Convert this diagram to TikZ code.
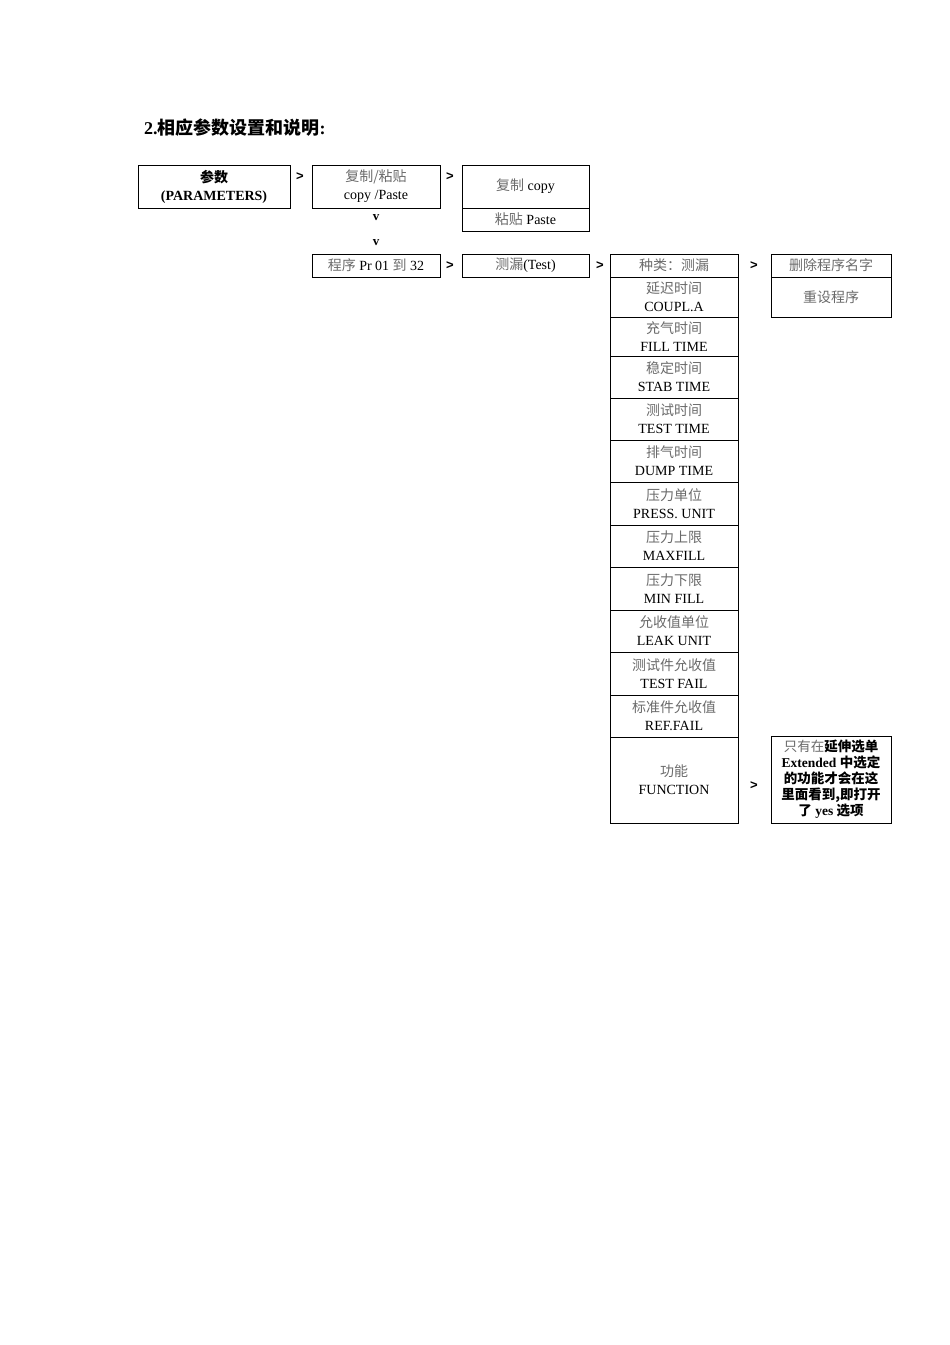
\documentclass[tikz,border=0pt]{standalone}
\usepackage{fontspec}
\setmainfont{Liberation Serif}
\newfontfamily\cjk{Noto Sans CJK SC}
\newfontfamily\arial{Liberation Sans}
\definecolor{cn}{HTML}{6A6A6A}
\newcommand{\zh}[1]{{\cjk\color{cn}#1}}
\newcommand{\zb}[1]{{\cjk\bfseries #1}}
\tikzset{
  box/.style={draw, line width=1pt, inner sep=0pt, align=center, font=\fontsize{14}{18}\selectfont},
  sym/.style={inner sep=0pt, font=\fontsize{13}{16}\selectfont\arial\bfseries},
  symv/.style={inner sep=0pt, font=\fontsize{13}{16}\selectfont\bfseries},
}
\begin{document}
\begin{tikzpicture}[x=1pt,y=-1pt]
\useasboundingbox (0,0) rectangle (950,1345);
\node[anchor=west, inner sep=0pt, font=\fontsize{18}{20}\selectfont\bfseries] (title) at (144,128) {2.\zb{相应参数设置和说明}:};

\node[box, minimum width=152pt, minimum height=43pt] (par) at (214,186.5) {\zb{参数}\\\bfseries (PARAMETERS)};
\node[sym] (g1) at (300,177) {>};
\node[box, minimum width=128pt, minimum height=43pt] (cp) at (376,186.5) {\zh{复制/粘贴}\\copy /Paste};
\node[sym] (g2) at (450,177) {>};
\node[box, minimum width=127pt, minimum height=43pt] (cy) at (525.5,186.5) {\zh{复制} copy};
\node[box, minimum width=127pt, minimum height=23pt] (pa) at (525.5,219.5) {\zh{粘贴} Paste};
\node[symv] (v1) at (376,218) {v};
\node[symv] (v2) at (376,243) {v};

\node[box, minimum width=128pt, minimum height=23pt] (pr) at (376,265.5) {\zh{程序} Pr 01 \zh{到} 32};
\node[sym] (g3) at (450,266) {>};
\node[box, minimum width=127pt, minimum height=23pt] (ts) at (525.5,265.5) {\zh{测漏}(Test)};
\node[sym] (g4) at (600,266) {>};

\node[box, minimum width=128pt, minimum height=23pt] (r1) at (674,265.5) {\zh{种类：测漏}};
\node[box, minimum width=128pt, minimum height=40pt] (r2) at (674,297) {\zh{延迟时间}\\COUPL.A};
\node[box, minimum width=128pt, minimum height=39pt] (r3) at (674,336.5) {\zh{充气时间}\\FILL TIME};
\node[box, minimum width=128pt, minimum height=42pt] (r4) at (674,377) {\zh{稳定时间}\\STAB TIME};
\node[box, minimum width=128pt, minimum height=42pt] (r5) at (674,419) {\zh{测试时间}\\TEST TIME};
\node[box, minimum width=128pt, minimum height=42pt] (r6) at (674,461) {\zh{排气时间}\\DUMP TIME};
\node[box, minimum width=128pt, minimum height=43pt] (r7) at (674,503.5) {\zh{压力单位}\\PRESS. UNIT};
\node[box, minimum width=128pt, minimum height=42pt] (r8) at (674,546) {\zh{压力上限}\\MAXFILL};
\node[box, minimum width=128pt, minimum height=43pt] (r9) at (674,588.5) {\zh{压力下限}\\MIN FILL};
\node[box, minimum width=128pt, minimum height=42pt] (r10) at (674,631) {\zh{允收值单位}\\LEAK UNIT};
\node[box, minimum width=128pt, minimum height=43pt] (r11) at (674,673.5) {\zh{测试件允收值}\\TEST FAIL};
\node[box, minimum width=128pt, minimum height=42pt] (r12) at (674,716) {\zh{标准件允收值}\\REF.FAIL};
\node[box, minimum width=128pt, minimum height=86pt] (r13) at (674,780) {\zh{功能}\\FUNCTION};

\node[sym] (g5) at (754,266) {>};
\node[box, minimum width=120pt, minimum height=23pt] (del) at (831,265.5) {\zh{删除程序名字}};
\node[box, minimum width=120pt, minimum height=40pt] (rst) at (831,297) {\zh{重设程序}};

\node[sym] (g6) at (754,786) {>};
\node[box, minimum width=120pt, minimum height=87pt, font=\fontsize{13.5}{16}\selectfont] (ext) at (831,779.5)
  {\zh{只有在}\zb{延伸选单}\\\textbf{Extended} \zb{中选定}\\\zb{的功能才会在这}\\\zb{里面看到,即打开}\\\zb{了} \textbf{yes} \zb{选项}};
\end{tikzpicture}
\end{document}
